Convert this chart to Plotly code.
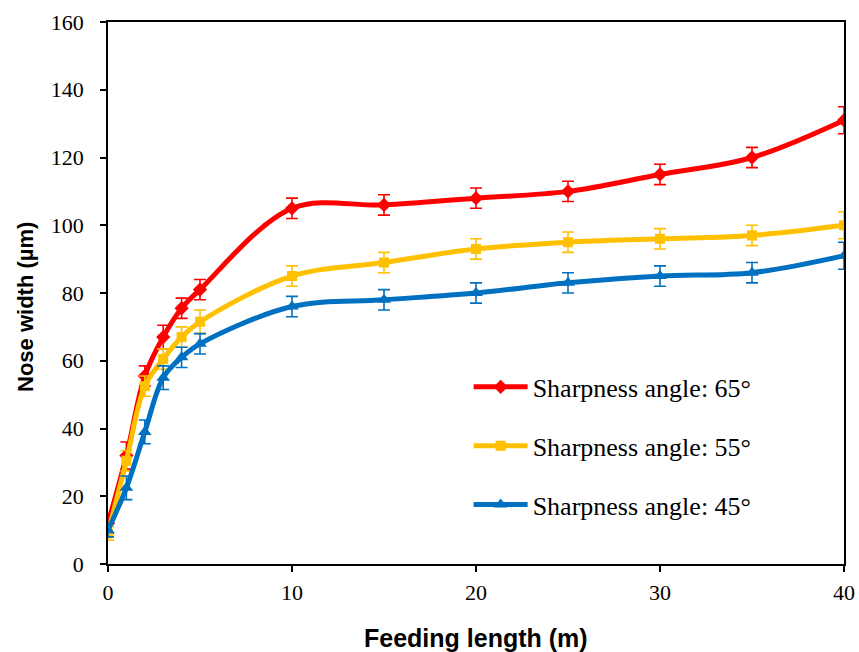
import plotly.graph_objects as go

feeding_length = [0, 1, 2, 3, 4, 5, 10, 15, 20, 25, 30, 35, 40]

width_65 = [12, 32, 55.5, 67, 75.5, 81, 105, 106, 108, 110, 115, 120, 131]
err_65 = [3, 4, 3, 3.5, 3, 3, 3, 3, 3, 3, 3, 3, 4]

width_55 = [9, 30.5, 52.5, 60.5, 67, 71.5, 85, 89, 93, 95, 96, 97, 100]
err_55 = [2, 3, 3, 3, 3, 3.5, 3, 3, 3, 3, 3, 3, 4]

width_45 = [10, 22.5, 39, 55, 61, 65, 76, 78, 80, 83, 85, 86, 91]
err_45 = [2, 3.5, 3.5, 3.5, 3, 3, 3, 3, 3, 3, 3, 3, 4]

series = [
    ("Sharpness angle: 65°", width_65, err_65, "#FF0000", "diamond", 11),
    ("Sharpness angle: 55°", width_55, err_55, "#FFC000", "square", 10),
    ("Sharpness angle: 45°", width_45, err_45, "#0070C0", "triangle-up", 12),
]

fig = go.Figure()
for i, (name, ys, es, color, sym, sz) in enumerate(series):
    fig.add_trace(go.Scatter(
        x=feeding_length, y=ys, name=name, mode="lines+markers",
        line=dict(color=color, width=5, shape="spline", smoothing=1),
        marker=dict(symbol=sym, size=sz, color=color),
        error_y=dict(type="data", array=es, visible=True, color=color,
                     thickness=1.6, width=6),
        legendgroup=str(i),
    ))

axis_common = dict(
    showgrid=False, zeroline=False, showline=True, linecolor="black",
    linewidth=1.5, mirror=True, ticks="outside", ticklen=6,
    tickcolor="black", tickwidth=1.5, automargin=False,
    tickfont=dict(family="Liberation Serif", size=22, color="black"),
)

fig.update_layout(
    width=859, height=652,
    margin=dict(l=108, r=15, t=22, b=88),
    paper_bgcolor="white", plot_bgcolor="white",
    xaxis=dict(range=[0, 40], tickvals=[0, 10, 20, 30, 40],
               ticklabelstandoff=2, **axis_common),
    yaxis=dict(range=[0, 160], tickvals=list(range(0, 161, 20)),
               ticklabelstandoff=12, **axis_common),
    legend=dict(x=0.49, y=0.37, xanchor="left", yanchor="top",
                font=dict(family="Liberation Serif", size=26, color="black"),
                traceorder="grouped", tracegroupgap=22, itemwidth=54,
                bgcolor="rgba(0,0,0,0)"),
    annotations=[
        dict(text="<b>Feeding length (m)</b>", xref="paper", yref="paper",
             x=0.5, y=(564 - 638) / 542, xanchor="center", yanchor="middle",
             showarrow=False,
             font=dict(family="Liberation Sans", size=25, color="black")),
        dict(text="<b>Nose width (µm)</b>", xref="paper", yref="paper",
             x=(25 - 108) / 736, y=(564 - 307) / 542, xanchor="center",
             yanchor="middle", textangle=-90, showarrow=False,
             font=dict(family="Liberation Sans", size=22, color="black")),
    ],
)

fig.write_html("out.html")
